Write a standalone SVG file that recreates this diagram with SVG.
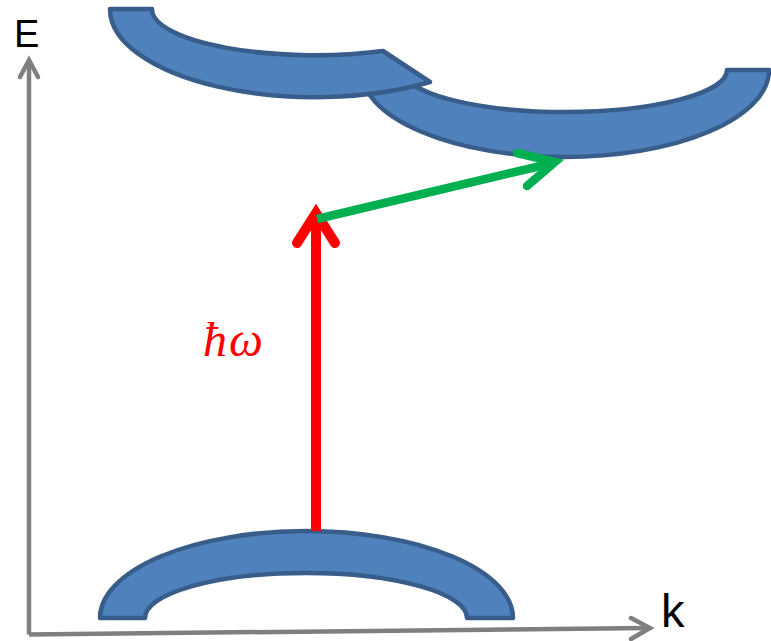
<svg xmlns="http://www.w3.org/2000/svg" width="771" height="641" viewBox="0 0 771 641">
  <style>
    .band { fill: #4f81bd; stroke: #385d8a; stroke-width: 4.5; stroke-linejoin: round; }
    .axis { fill: none; stroke: #7f7f7f; stroke-width: 4.5; }
    .axhead { fill: none; stroke: #7f7f7f; stroke-width: 4.5; stroke-linecap: round; stroke-linejoin: miter; }
    .lbl { font-family: "Liberation Sans", Arial, sans-serif; fill: #000000; }
    .photon { fill: none; stroke: #ff0000; stroke-width: 10; stroke-linejoin: miter; stroke-miterlimit: 10; }
    .phonon { fill: none; stroke: #00b050; stroke-width: 8.5; stroke-linejoin: miter; stroke-miterlimit: 10; }
  </style>
  <rect width="771" height="641" fill="#ffffff"/>

  <g id="axes">
    <line class="axis" x1="29" y1="634.5" x2="29" y2="62"/>
    <polyline class="axhead" points="20,77 29,60 38,77"/>
    <line class="axis" x1="29" y1="634.5" x2="649" y2="628"/>
    <polyline class="axhead" points="631,618 650,628 631,639"/>
    <text class="lbl" x="14" y="47" font-size="38">E</text>
    <text class="lbl" x="661" y="627" font-size="47">k</text>
  </g>

  <g id="conduction-band-right">
    <path class="band" d="M 361 70 A 204 87 0 0 0 769 70 L 727 70 A 162 42 0 0 1 403 70 Z"/>
  </g>
  <g id="conduction-band-left">
    <path class="band" d="M 110 9 A 205 88 0 0 0 430 82 L 383 51 A 163 46 0 0 1 152 9 Z"/>
  </g>
  <g id="valence-band">
    <path class="band" d="M 100 618 A 206.5 87 0 0 1 513 618 L 467 618 A 161 45 0 0 0 145 618 Z"/>
  </g>

  <g id="connectors">
    <g id="photon-arrow">
      <line class="photon" x1="316" y1="531" x2="316" y2="215"/>
      <polyline class="photon" stroke-linecap="round" points="297,243 316,213 335,243"/>
    </g>
    <g id="phonon-arrow">
      <line class="phonon" x1="317" y1="219" x2="553" y2="163"/>
      <polyline class="phonon" stroke-linecap="round" points="517,153 555,162 527,186"/>
    </g>
  </g>

  <g id="label-hw">
    <text x="203" y="356" font-family="'Liberation Serif', 'DejaVu Serif', serif" font-style="italic" font-size="48" letter-spacing="2" fill="#ff0000">ħω</text>
  </g>
</svg>
